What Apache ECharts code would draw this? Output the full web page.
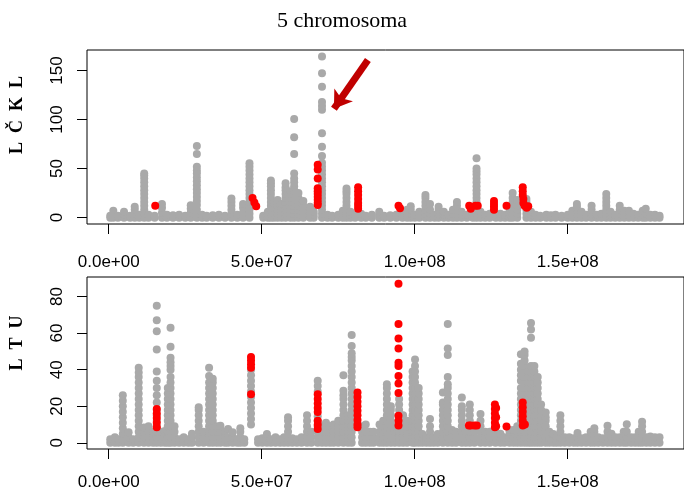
<!DOCTYPE html>
<html>
<head>
<meta charset="utf-8">
<title>5 chromosoma</title>
<script src="https://cdn.jsdelivr.net/npm/echarts@6/dist/echarts.min.js"></script>
<style>
  html, body { margin: 0; padding: 0; background: #fff; }
  #chart { width: 684px; height: 491px; }
</style>
</head>
<body>
<div id="chart"></div>
<script>
// positions in Mb, then the -log10(p) style values stacked at that position
const lckGrey = [
  [0.5, 0, 2], [1.5, 0, 3, 7], [3, 0, 2], [5, 0, 3, 6], [7, 0, 2], [8.5, 0, 4, 8, 11], [10, 0, 3],
  [11.6, 0, 4, 8, 12, 16, 20, 24, 28, 32, 36, 40, 43, 45], [13, 0, 3], [15, 0, 2],
  [17.4, 0, 5, 10, 14], [19, 0, 3], [21, 0, 2.5], [23, 0, 3], [25, 0, 2], [26.8, 0, 5, 9, 12.5],
  [28.8, 0, 4, 8, 13, 17, 21, 25, 29, 33, 37, 41, 45, 48, 52, 65, 73],
  [30.5, 0, 3], [32, 0, 2], [34, 0, 2.5], [36, 0, 3], [38, 0, 2], [40.1, 0, 4, 8, 12, 16, 19.5],
  [42, 0, 3], [43.9, 0, 5, 10, 14], [46, 0, 4, 8, 12, 16, 20, 24, 28, 32, 36, 40, 44, 48, 52, 55.5],
  [50.5, 0, 2], [52, 0, 3, 6], [53, 0, 4, 8, 12, 16, 20, 24, 28, 32, 35, 38], [54, 0, 5, 10, 15],
  [55.2, 0, 4, 8, 12, 15, 18], [56.5, 0, 5, 10, 14], [57.8, 0, 4, 8, 12, 16, 20, 24, 28, 31, 35],
  [59.4, 0, 4, 8, 12, 16, 20, 24, 27], [60.6, 0, 4, 8, 12, 16, 20, 24, 28, 32, 36, 40, 45, 65, 82, 100.5],
  [62, 0, 4, 8, 12, 16, 20, 25], [63.6, 0, 4, 8, 12, 17], [65.8, 0, 4, 8, 11], [67, 0, 3, 6],
  [69.7, 0, 4, 8, 12, 16, 20, 24, 28, 32, 36, 40, 44, 48, 52, 56, 62.8, 72.3, 86, 110, 114, 118, 133.6, 147.3, 164.3],
  [71.5, 0, 3], [73, 0, 2], [75, 0, 3], [76.5, 0, 4, 7], [77.7, 0, 4, 8, 12, 16, 20, 24, 27, 29.6],
  [79, 0, 3, 6], [80.5, 0, 3], [82.5, 0, 4], [84, 0, 2], [86, 0, 3], [88.4, 0, 3, 6], [90, 0, 2],
  [92, 0, 2.5], [94, 0, 3], [96, 0, 3], [97.5, 0, 4, 8], [98.7, 0, 4, 8, 11.5], [100, 0, 3],
  [101.5, 0, 3, 6], [103.5, 0, 4, 8, 12, 16, 20, 23], [105, 0, 4, 8, 14], [106.5, 0, 3],
  [107.8, 0, 4, 8, 11], [109.5, 0, 3, 6], [111, 0, 3], [112.5, 0, 4, 8], [113.8, 0, 4, 8, 12, 16],
  [115.3, 0, 3, 6], [117, 0, 3], [119, 0, 4], [120.2, 0, 4, 8, 12, 16, 20, 24, 28, 32, 36, 40, 44, 47, 50, 60.5],
  [121.5, 0, 3, 6], [123, 0, 3], [124.5, 0, 4], [126.5, 0, 3], [128, 0, 4], [129.5, 0, 3], [131, 0, 4, 8],
  [132, 0, 4, 8, 12, 16, 20, 25], [133.5, 0, 4, 8, 12, 18], [136.5, 0, 4, 8, 12, 16, 19], [138, 0, 3, 6],
  [139.5, 0, 3], [141, 0, 2], [143, 0, 3], [144.5, 0, 2.5], [146, 0, 3], [148, 0, 2], [150, 0, 3],
  [151.5, 0, 4, 7], [153, 0, 4, 8, 11, 14], [154.5, 0, 4, 6], [156, 0, 3], [157.8, 0, 4, 8, 12],
  [159.5, 0, 3], [161, 0, 4], [162.6, 0, 4, 8, 12, 16, 20, 24], [164, 0, 3, 6], [165.5, 0, 3],
  [167, 0, 4, 8, 12], [168.5, 0, 4, 7], [170, 0, 3, 7], [171.5, 0, 4], [173, 0, 3], [174.5, 0, 4, 7],
  [175.5, 0, 4, 9], [177, 0, 3], [178.5, 0, 3], [180, 0, 2]
];
const lckRed = [
  [15.2, 12], [47, 20], [47.6, 15.5], [48.2, 11.5],
  [68.3, 54, 49, 40, 30, 27, 24, 21, 18, 15, 13],
  [81.5, 31, 27, 23, 19, 15, 12, 9],
  [94.7, 12], [95.2, 9.5],
  [117.8, 12], [118.3, 9], [119.8, 12], [120.6, 12],
  [125.9, 17, 14, 11, 8], [130, 12],
  [135.3, 31, 27, 23], [135.5, 19, 15], [135.9, 12], [136.6, 10], [137.1, 11.5]
];

const ltuGrey = [
  [0.5, 0, 2], [2, 0, 3], [3.2, 0, 2], [4.6, 0, 2, 5, 8, 11, 14, 17, 20, 23, 26], [6.5, 0, 3, 5.7], [8, 0, 2],
  [9.8, 0, 3, 6, 9, 12, 15, 18, 21, 24, 27, 30, 33, 36, 38.5, 41], [11.5, 0, 3, 6, 8.4], [13, 0, 3, 6, 9],
  [14.5, 0, 3, 6], [15.7, 0, 3, 6, 9, 12, 15, 18, 22, 26, 30, 34, 39, 51, 61, 67, 75], [17, 0, 3, 6],
  [18.3, 0, 3, 6.5], [19.3, 0, 3, 6, 9, 12, 15, 18, 21, 24, 27, 30],
  [20.2, 0, 3, 6, 9, 12, 15, 18, 21, 24, 27, 30, 33, 36, 40, 42, 44, 46.5, 52.5, 63],
  [21.5, 0, 3, 6, 9], [23, 0, 2], [24.5, 0, 3], [26, 0, 2], [27.2, 0, 3, 5],
  [29.4, 0, 3, 6, 9, 12, 15, 18, 19.5], [31, 0, 3, 6],
  [32.8, 0, 3, 6, 9, 12, 15, 18, 21, 24, 27, 30, 33, 36.5, 41],
  [34, 0, 3, 6, 9, 12, 15, 18, 21, 24, 27, 30, 33, 35], [35.3, 0, 3, 6, 9], [36.5, 0, 3, 6, 9.3],
  [38, 0, 3, 6], [39, 0, 3, 7.5], [40.5, 0, 3, 5.7], [42, 0, 2], [43, 0, 3, 6, 8], [44.3, 0, 2],
  [46.5, 10, 13, 16, 19, 22, 25, 28, 31, 34, 37, 40],
  [48.8, 0, 2], [50.2, 0, 2.5], [51.7, 0, 3, 4.8], [53, 0, 2], [54.5, 0, 3], [56, 0, 2], [57.3, 0, 3],
  [58.6, 0, 3, 6, 9, 12, 14], [60, 0, 2.5], [61.5, 0, 2], [63, 0, 3], [64.8, 0, 3, 6, 9, 12, 15],
  [66.2, 0, 3, 6], [68.3, 0, 3, 6, 9, 12, 14.5, 28, 31, 34], [69.7, 0, 3, 6, 9], [71, 0, 3, 6, 9, 11],
  [72.3, 0, 3, 6, 9], [73.5, 0, 3, 6, 10], [75, 0, 3, 6, 9, 12],
  [76.7, 0, 3, 6, 9, 12, 15, 18, 21, 24, 26, 28.4, 37], [78.2, 0, 3, 6, 9, 12, 15],
  [79.4, 0, 3, 6, 9, 12, 15, 18, 21, 24, 27, 30, 33, 36, 39, 42, 45, 47, 49, 53, 59],
  [82.8, 0, 3, 6, 9], [84, 0, 3, 6, 10], [85.3, 0, 3, 6], [86.5, 0, 3, 6], [88.5, 0, 3, 6, 10],
  [89.7, 0, 3, 6, 9, 12], [90.9, 0, 3, 6, 9, 12, 15, 18, 21, 24, 27, 30, 32],
  [92.2, 0, 3, 6, 9, 12, 15, 18, 20], [93.5, 0, 3, 6, 9], [94.9, 0, 3, 6, 18, 21, 24],
  [96.2, 0, 3, 6, 9, 12, 15], [97.5, 0, 3, 6, 9, 12],
  [99.3, 0, 3, 6, 9, 12, 15, 18, 21, 24, 27, 30, 33, 36, 39],
  [100.1, 0, 3, 6, 9, 12, 15, 18, 21, 24, 27, 30, 33, 36, 39, 42, 45.6],
  [101.3, 0, 3, 6, 9, 12, 15, 18, 21, 24, 27, 30], [102.5, 0, 3, 4.8], [103.8, 0, 3],
  [105, 0, 3, 6, 9, 13], [106.2, 0, 3], [107.5, 0, 3, 4.8], [109.2, 0, 3, 6, 9, 12, 15, 18, 21, 22, 27.5],
  [110.8, 0, 3, 6, 9, 12, 15, 18, 21, 24, 27, 30, 32, 36, 48, 51.6, 65],
  [112.2, 0, 3, 6, 7], [113.5, 0, 3, 6], [115.4, 0, 3, 6, 9, 12, 15, 18, 20, 24.8], [116.7, 0, 3, 6],
  [118, 0, 3, 6, 9, 12, 15, 18, 21], [119.5, 0, 3, 6], [121.5, 0, 3, 6, 9, 12, 15.7], [123, 0, 3, 6],
  [124.5, 0, 3, 6], [126.4, 0, 3, 6], [128, 0, 3, 5], [129.3, 0, 3], [131, 0, 3, 6, 7], [132.3, 0, 3, 6, 7],
  [133.5, 0, 3, 6, 9], [134.7, 0, 3, 6, 9, 12, 15, 18, 21, 24, 27, 30, 34, 37, 40, 43.3, 48.4],
  [135.9, 0, 3, 6, 9, 12, 15, 18, 21, 24, 27, 30, 33, 36, 39, 42, 45, 48, 50],
  [137, 0, 3, 6, 9, 12, 15, 18, 21, 24, 27, 30, 33, 36, 39],
  [138, 0, 3, 6, 9, 12, 15, 18, 21, 24, 27, 30, 33, 36, 39, 42, 57.4, 62, 65.6],
  [139.1, 0, 3, 6, 9, 12, 15, 18, 21, 24, 27, 30, 33, 36, 39, 42],
  [140.2, 0, 3, 6, 9, 12, 15, 18, 21, 24, 27, 30, 33, 36], [141.3, 0, 3, 6, 9, 12, 15, 18, 21],
  [142.8, 0, 3, 6, 9, 12, 14, 16.6], [144, 0, 3, 6], [145.3, 0, 3, 4.8], [146.4, 0, 3],
  [147.6, 0, 3, 6, 9, 12, 15], [149, 0, 3], [150.5, 0, 3], [152, 0, 2.5], [153.2, 0, 3, 5.3],
  [154.5, 0, 2.5], [156, 0, 3], [157.5, 0, 3, 6], [158.7, 0, 3, 6, 7.9], [160, 0, 3], [161.5, 0, 2.5],
  [163, 0, 3, 6, 9.3], [164.3, 0, 3, 5], [165.6, 0, 3], [167, 0, 3], [168.3, 0, 3, 6], [169.3, 0, 3, 6, 10.2],
  [170.7, 0, 3], [172, 0, 3], [173.2, 0, 3, 6], [174.3, 0, 3, 6, 9, 11.5], [175.7, 0, 3], [177, 0, 3.5],
  [178.5, 0, 3], [180, 0, 3]
];
const ltuRed = [
  [15.7, 18.5, 16, 13.5, 11, 8.5],
  [46.5, 47, 45, 43, 41, 26.6],
  [68.3, 26.6, 24, 21.5, 19, 16.8, 12, 9.8, 7.6],
  [81.3, 27.5, 25, 22.5, 20, 17.5, 15, 12.5, 10, 8.5],
  [94.7, 87, 65, 57, 51.6, 43.8, 42, 36.6, 32.4, 27.2, 14.8, 12, 9.4],
  [117.7, 9.4], [118.3, 9.4], [119.5, 9.4], [120.3, 9.4],
  [126.2, 21, 18.5, 16, 13.5, 11, 8.5], [126.6, 19, 14, 9], [130, 8.9],
  [135.3, 22, 19.5, 17, 14.5, 12, 9.5], [136, 10]
];

const xTicks = [0, 5e7, 1e8, 1.5e8];
const lckTicks = [0, 50, 100, 150];
const ltuTicks = [0, 20, 40, 60, 80];
// annotation arrow, data coords of the upper panel [bp, value]
const arrowFrom = [84.7e6, 160.9];
const arrowTo = [73.6e6, 111];

const GREY = '#A9A9A9';
const RED = '#FF0000';

// expand [pos, v1, v2 ...] columns into scatter points
function toPoints(cols) {
  const out = [];
  cols.forEach(c => {
    for (let i = 1; i < c.length; i++) out.push([c[0] * 1e6, c[i]]);
  });
  return out;
}

function sciLabel(v) {
  if (v === 0) return '0.0e+00';
  const e = Math.floor(Math.log10(Math.abs(v)));
  const m = v / Math.pow(10, e);
  return m.toFixed(1) + 'e+' + String(e).padStart(2, '0');
}

const labelFont = { color: '#000', fontFamily: 'Liberation Sans', fontSize: 17 };

function xAxisFor(gridIndex, margin) {
  return {
    type: 'value', gridIndex, min: -7.1e6, max: 188e6,
    axisLine: { show: false, onZero: false },
    axisTick: { show: true, length: 10, lineStyle: { color: '#000' }, customValues: xTicks },
    axisLabel: { ...labelFont, margin, formatter: sciLabel, customValues: xTicks },
    splitLine: { show: false }
  };
}

function yAxisFor(gridIndex, min, max, ticks) {
  return {
    type: 'value', gridIndex, min, max,
    axisLine: { show: false, onZero: false },
    axisTick: { show: true, length: 10, lineStyle: { color: '#000' }, customValues: ticks },
    axisLabel: { ...labelFont, rotate: 90, margin: 21, customValues: ticks },
    splitLine: { show: false }
  };
}

function dots(name, data, color, xi, extra) {
  return Object.assign({
    name, type: 'scatter', xAxisIndex: xi, yAxisIndex: xi,
    data, symbol: 'circle', symbolSize: 8,
    itemStyle: { color, opacity: 1 },
    silent: true
  }, extra || {});
}

const chart = echarts.init(document.getElementById('chart'), null, { renderer: 'canvas' });
chart.setOption({
  animation: false,
  backgroundColor: '#fff',
  grid: [
    { left: 87, top: 50, width: 605, height: 174, show: true, borderColor: '#000', borderWidth: 1, backgroundColor: 'transparent' },
    { left: 87, top: 277, width: 605, height: 173, show: true, borderColor: '#000', borderWidth: 1, backgroundColor: 'transparent' }
  ],
  xAxis: [xAxisFor(0, 30), xAxisFor(1, 25)],
  yAxis: [yAxisFor(0, -6.5, 171, lckTicks), yAxisFor(1, -3.4, 90.7, ltuTicks)],
  graphic: [
    { type: 'text', left: 'center', top: 10, style: { text: '5 chromosoma', font: '22px "Liberation Serif"', fill: '#000' } },
    { type: 'text', x: 17, y: 115, rotation: Math.PI / 2,
      style: { text: 'L  Č  K  L', font: 'bold 18px "Liberation Serif"', fill: '#000', align: 'center', verticalAlign: 'middle' } },
    { type: 'text', x: 17, y: 343, rotation: Math.PI / 2,
      style: { text: 'L  T  U', font: 'bold 18px "Liberation Serif"', fill: '#000', align: 'center', verticalAlign: 'middle' } }
  ],
  series: [
    dots('LČKL', toPoints(lckGrey), GREY, 0),
    dots('LČKL sig', toPoints(lckRed), RED, 0, {
      markLine: {
        silent: true, animation: false,
        symbol: ['none', 'arrow'], symbolSize: [17, 17],
        lineStyle: { color: '#C00000', width: 7, type: 'solid', cap: 'butt' },
        label: { show: false },
        data: [[{ coord: arrowFrom }, { coord: arrowTo }]]
      }
    }),
    dots('LTU', toPoints(ltuGrey), GREY, 1),
    dots('LTU sig', toPoints(ltuRed), RED, 1)
  ]
});
</script>
</body>
</html>
